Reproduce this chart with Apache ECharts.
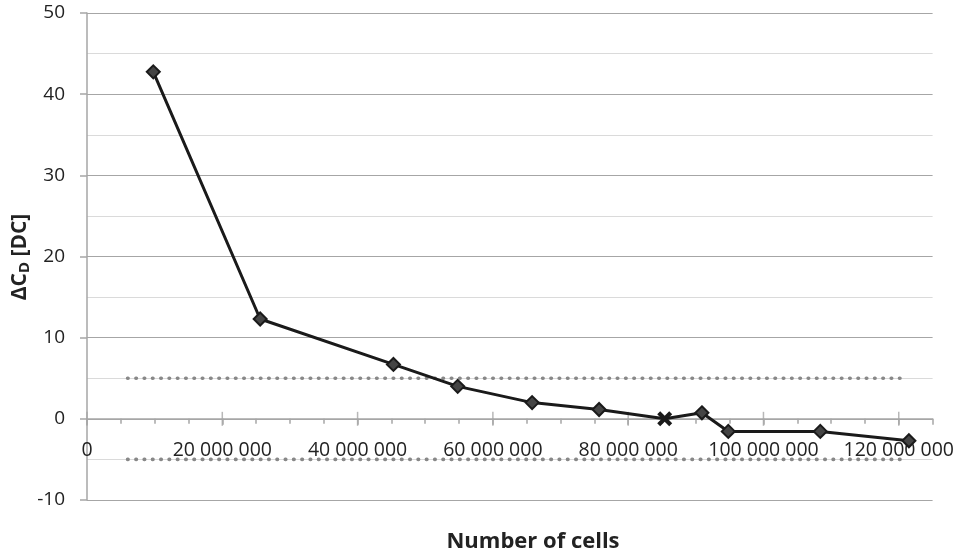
<!DOCTYPE html>
<html>
<head>
<meta charset="utf-8">
<script src="https://cdn.jsdelivr.net/npm/echarts@6/dist/echarts.min.js"></script>
<style>html,body{margin:0;padding:0;background:#fff}#c{width:957px;height:554px}</style>
</head>
<body>
<div id="c"></div>
<script>
const cells = [9.8e6, 25.6e6, 45.3e6, 54.8e6, 65.8e6, 75.7e6, 85.4e6, 90.9e6, 94.8e6, 108.4e6, 121.5e6];
const deltaCd = [42.75, 12.3, 6.7, 4.0, 2.0, 1.15, 0.0, 0.74, -1.55, -1.55, -2.7];
const referenceIndex = 6;
const upperBand = [[6.0e6, 5], [120.7e6, 5]];
const lowerBand = [[6.0e6, -5], [120.7e6, -5]];
const xTickValues = [0, 20e6, 40e6, 60e6, 80e6, 100e6, 120e6];
const xTickLabels = ['0', '20 000 000', '40 000 000', '60 000 000', '80 000 000', '100 000 000', '120 000 000'];
const yTickLabels = ['-10', '0', '10', '20', '30', '40', '50'];

const FONT = '"Open Sans", sans-serif';
const crossPath = 'path://M2,0 L5,3 L8,0 L10,2 L7,5 L10,8 L8,10 L5,7 L2,10 L0,8 L3,5 L0,2 Z';

const mainData = cells.map((x, i) => {
  const item = { value: [x, deltaCd[i]] };
  if (i === referenceIndex) {
    item.symbol = crossPath;
    item.symbolSize = 15;
    item.itemStyle = { color: '#1a1a1a', borderWidth: 0 };
  }
  return item;
});

const chart = echarts.init(document.getElementById('c'), null, { renderer: 'canvas' });
chart.setOption({
  animation: false,
  backgroundColor: '#ffffff',
  grid: { left: 87, top: 13, right: 21, bottom: 54, containLabel: false },
  xAxis: {
    type: 'value', min: 0, max: 125e6, interval: 20e6,
    axisLine: { show: true, onZero: true, lineStyle: { color: '#a6a6a6', width: 1.5 } },
    axisTick: { show: true, length: 6, lineStyle: { color: '#a6a6a6', width: 1.5 } },
    minorTick: { show: true, splitNumber: 4, length: 5, lineStyle: { color: '#a6a6a6', width: 1.5 } },
    splitLine: { show: false },
    axisLabel: {
      show: true, margin: -60, showMaxLabel: false,
      color: '#222', fontFamily: FONT, fontSize: 19.5,
      formatter: (v) => xTickLabels[xTickValues.indexOf(v)] || ''
    }
  },
  yAxis: {
    type: 'value', min: -10, max: 50, interval: 10,
    axisLine: { show: true, onZero: false, lineStyle: { color: '#a6a6a6', width: 1.5 } },
    axisTick: { show: true, length: 7, lineStyle: { color: '#a6a6a6', width: 1.5 } },
    minorTick: { show: false, splitNumber: 2 },
    splitLine: { show: true, lineStyle: { color: '#a6a6a6', width: 1.2 } },
    minorSplitLine: { show: true, lineStyle: { color: '#dadada', width: 1.2 } },
    axisLabel: {
      margin: 22, color: '#222', fontFamily: FONT, fontSize: 19,
      formatter: (v) => yTickLabels[Math.round((v + 10) / 10)]
    }
  },
  series: [{
    type: 'line', data: upperBand, symbol: 'none', silent: true,
    lineStyle: { color: '#888', width: 3.6, type: [0.5, 7.8], cap: 'round' }
  }, {
    type: 'line', data: lowerBand, symbol: 'none', silent: true,
    lineStyle: { color: '#888', width: 3.6, type: [0.5, 7.8], cap: 'round' }
  }, {
    type: 'scatter', silent: true, z: 1,
    data: xTickValues.map(v => [v, 0]),
    symbol: 'rect', symbolSize: [1.5, 14],
    itemStyle: { color: '#a6a6a6' }
  }, {
    type: 'line', data: mainData, symbol: 'diamond', symbolSize: 13, z: 5,
    lineStyle: { color: '#1a1a1a', width: 3 },
    itemStyle: { color: '#444', borderColor: '#1a1a1a', borderWidth: 2 }
  }],
  graphic: [{
    type: 'text', x: 20, y: 257, rotation: Math.PI / 2,
    style: {
      text: '{a|ΔC}{s|D}{a| [DC]}',
      align: 'center', verticalAlign: 'middle',
      rich: {
        a: { fontFamily: FONT, fontSize: 21, fontWeight: 'bold', fill: '#222', color: '#222' },
        s: { fontFamily: FONT, fontSize: 15, fontWeight: 'bold', fill: '#222', color: '#222', padding: [9, 0, 0, 0] }
      }
    }
  }, {
    type: 'text', x: 533, y: 542,
    style: {
      text: 'Number of cells', fontFamily: FONT, fontSize: 22, fontWeight: 'bold',
      fill: '#222', align: 'center', verticalAlign: 'middle'
    }
  }]
});
</script>
</body>
</html>
